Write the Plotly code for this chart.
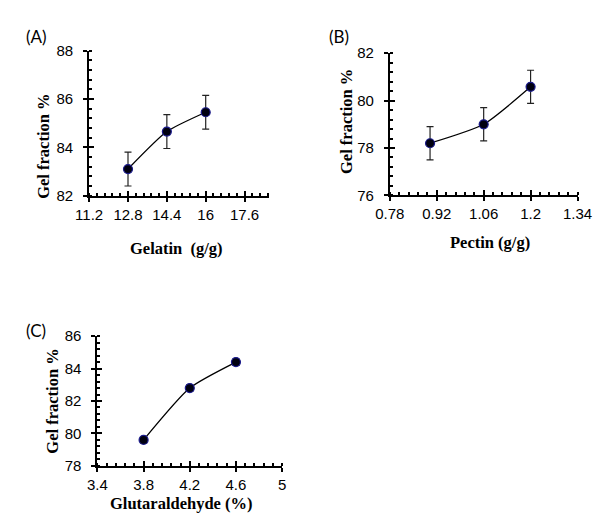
import plotly.graph_objects as go

# ---- data ----
gelatin = [12.8, 14.4, 16.0]
gel_fraction_a = [83.1, 84.65, 85.45]
err_a = [0.7, 0.7, 0.7]

pectin = [0.9, 1.06, 1.2]
gel_fraction_b = [78.2, 79.0, 80.58]
err_b = [0.7, 0.7, 0.7]

glutaraldehyde = [3.8, 4.2, 4.6]
gel_fraction_c = [79.6, 82.8, 84.4]
err_c = [0.2, 0.2, 0.2]

panel_labels = ["(A)", "(B)", "(C)"]
x_titles = ["Gelatin  (g/g)", "Pectin (g/g)", "Glutaraldehyde (%)"]
y_title = "Gel fraction %"

# ---- per-panel axis setup ----
panels = [
    dict(x=gelatin, y=gel_fraction_a, e=err_a,
         xdom=[78 / 608, 267 / 608], ydom=[1 - 193 / 518, 1 - 43 / 518],
         xr=[11.2, 18.6], xt0=11.2, xdt=1.6, xmin=0.32,
         yr=[82, 88], ydt=2, ymin=0.4),
    dict(x=pectin, y=gel_fraction_b, e=err_b,
         xdom=[394.3 / 608, 591.7 / 608], ydom=[1 - 192.7 / 518, 1 - 45.7 / 518],
         xr=[0.78, 1.34], xt0=0.78, xdt=0.14, xmin=0.028,
         yr=[76, 82], ydt=2, ymin=0.4),
    dict(x=glutaraldehyde, y=gel_fraction_c, e=err_c,
         xdom=[86.7 / 608, 281 / 608], ydom=[1 - 472.3 / 518, 1 - 338.3 / 518],
         xr=[3.4, 5.0], xt0=3.4, xdt=0.4, xmin=0.08,
         yr=[78, 86], ydt=2, ymin=0.4),
]

tick_font = dict(family="Liberation Sans, Arial", size=15, color="black")
title_font = dict(family="Liberation Serif, Times New Roman", size=16.5, color="black")

fig = go.Figure()
layout = dict(
    width=608, height=518,
    margin=dict(l=0, r=0, t=0, b=0),
    paper_bgcolor="white", plot_bgcolor="white",
    showlegend=False,
)

for i, p in enumerate(panels):
    n = i + 1
    xa = "x" if n == 1 else f"x{n}"
    ya = "y" if n == 1 else f"y{n}"
    fig.add_trace(go.Scatter(
        x=p["x"], y=p["y"], xaxis=xa, yaxis=ya,
        mode="lines+markers",
        line=dict(color="black", width=1.3, shape="spline", smoothing=0.6),
        marker=dict(size=9, color="#000010", line=dict(color="#1a1a8c", width=1.2)),
        error_y=dict(type="data", array=p["e"], visible=True,
                     color="#222222", thickness=1.2, width=3.5),
        cliponaxis=False,
    ))

    layout[f"xaxis{'' if n == 1 else n}"] = dict(
        domain=p["xdom"], anchor=ya, range=p["xr"],
        tick0=p["xt0"], dtick=p["xdt"], tickmode="linear",
        showline=True, linecolor="black", linewidth=2,
        ticks="outside", ticklen=4, tickwidth=2, tickcolor="black",
        minor=dict(ticks="inside", tick0=p["xt0"], dtick=p["xmin"],
                   ticklen=3, tickwidth=1.5, tickcolor="black"),
        showgrid=False, zeroline=False, tickfont=tick_font,
    )
    layout[f"yaxis{'' if n == 1 else n}"] = dict(
        domain=p["ydom"], anchor=xa, range=p["yr"],
        tick0=p["yr"][0], dtick=p["ydt"], tickmode="linear",
        showline=True, linecolor="black", linewidth=2,
        ticks="outside", ticklen=4, tickwidth=2, tickcolor="black",
        minor=dict(ticks="inside", tick0=p["yr"][0], dtick=p["ymin"],
                   ticklen=3, tickwidth=1.5, tickcolor="black"),
        showgrid=False, zeroline=False, tickfont=tick_font,
        ticklabelstandoff=7,
    )

    # companion axes supplying the inner half of the crossing major ticks
    k = n + 3
    layout[f"xaxis{k}"] = dict(
        overlaying=xa, anchor=f"y{k}", range=p["xr"],
        tick0=p["xt0"], dtick=p["xdt"], tickmode="linear",
        ticks="inside", ticklen=5, tickwidth=2, tickcolor="black",
        showticklabels=False, showline=False, showgrid=False, zeroline=False)
    layout[f"yaxis{k}"] = dict(
        overlaying=ya, anchor=f"x{k}", range=p["yr"],
        tick0=p["yr"][0], dtick=p["ydt"], tickmode="linear",
        ticks="inside", ticklen=5, tickwidth=2, tickcolor="black",
        showticklabels=False, showline=False, showgrid=False, zeroline=False)
    # transparent copy of the series so the companion subplot is rendered
    fig.add_trace(go.Scatter(x=p["x"], y=p["y"], xaxis=f"x{k}", yaxis=f"y{k}",
                             mode="markers", marker=dict(opacity=0),
                             hoverinfo="skip", showlegend=False))

fig.update_layout(**layout)

# panel letters
label_pos = [(9, 28), (328, 28), (9, 332)]
for text, (px, py) in zip(panel_labels, label_pos):
    fig.add_annotation(text=text, xref="paper", yref="paper",
                       x=px / 608, y=1 - py / 518, xanchor="left", yanchor="middle",
                       showarrow=False,
                       font=dict(family="Lato, Open Sans", size=17, color="black"))

# axis titles
x_title_pos = [(170, 248), (500, 241), (175, 511)]
for text, (px, py) in zip(x_titles, x_title_pos):
    fig.add_annotation(text=f"<b>{text}</b>", xref="paper", yref="paper",
                       x=px / 608, y=1 - py / 518, xanchor="center", yanchor="middle",
                       showarrow=False, font=title_font)

y_title_pos = [(30, 142), (348, 116), (40, 406)]
for px, py in y_title_pos:
    fig.add_annotation(text=f"<b>{y_title}</b>", xref="paper", yref="paper",
                       x=px / 608, y=1 - py / 518, xanchor="center", yanchor="middle",
                       textangle=-90, showarrow=False, font=title_font)

fig.write_html("out.html")
